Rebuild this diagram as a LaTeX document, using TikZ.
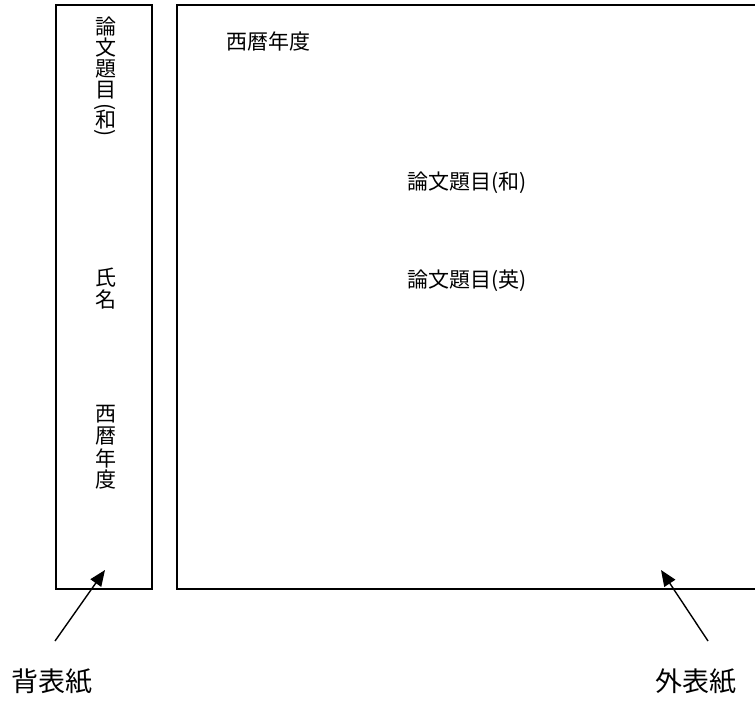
\documentclass[tikz,border=0pt]{standalone}
\usepackage{fontspec}
\setmainfont{Noto Sans CJK JP}
\usetikzlibrary{arrows.meta}
\tikzset{
  frame/.style={draw=black, line width=1.5pt},
  ch/.style={inner sep=0pt, anchor=center, font=\fontsize{21}{22}\selectfont},
  txt/.style={inner sep=0pt, anchor=west, font=\fontsize{21}{22}\selectfont},
  lbl/.style={inner sep=0pt, anchor=west, font=\fontsize{27}{28}\selectfont},
  ptr/.style={line width=1.4pt, -{Triangle[length=16pt,width=13pt]}}
}
\begin{document}
\begin{tikzpicture}[x=1pt,y=-1pt]
\useasboundingbox (0,0) rectangle (755,701);
% spine strip
\draw[frame] (56,5) rectangle (152,589);
% cover
\draw[frame] (757,5) -- (177,5) -- (177,589) -- (757,589);
% vertical texts on spine
\node[ch] (s1) at (106,27) {論};
\node[ch] (s2) at (106,47.5) {文};
\node[ch] (s3) at (106,68.5) {題};
\node[ch] (s4) at (106,90) {目};
\node[ch] (s5) at (105.5,107) {\rotatebox{-90}{(}};
\node[ch] (s6) at (106,120) {和};
\node[ch] (s7) at (105.5,133) {\rotatebox{-90}{)}};
\node[ch] (n1) at (106,278) {氏};
\node[ch] (n2) at (106,299.5) {名};
\node[ch] (y1) at (106,414) {西};
\node[ch] (y2) at (106,436.5) {暦};
\node[ch] (y3) at (106,458) {年};
\node[ch] (y4) at (106,479.5) {度};
% cover texts
\node[txt] (cy) at (226,41) {西暦年度};
\node[txt] (tj) at (407,183) {論文題目(和)};
\node[txt] (te) at (407,281) {論文題目(英)};
% labels and pointers
\node[lbl] (lb) at (11,681.5) {背表紙};
\node[lbl] (lc) at (655,682) {外表紙};
\coordinate (a1s) at (55,641);
\coordinate (a1e) at (105,570);
\coordinate (a2s) at (708,641);
\coordinate (a2e) at (661,570);
\draw[ptr] (a1s) -- (a1e);
\draw[ptr] (a2s) -- (a2e);
\end{tikzpicture}
\end{document}
